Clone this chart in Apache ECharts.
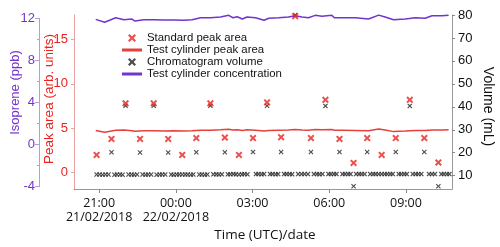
<!DOCTYPE html>
<html>
<head>
<meta charset="utf-8">
<script src="https://cdn.jsdelivr.net/npm/echarts@6/dist/echarts.min.js"></script>
<style>html,body{margin:0;padding:0;background:#fff}#c{width:500px;height:247px}</style>
</head>
<body>
<div id="c"></div>
<script>
// Times are minutes after 21:00 on 21/02/2018 (UTC)
const cylinderTimes = [-8, 13, 39, 58, 77, 84, 105, 128, 152, 175, 199, 218, 238, 261, 285, 304, 314, 324, 336, 347, 367, 387, 398, 421, 444, 460, 476, 491, 507, 523, 546, 552, 570, 601, 632, 656, 671, 691, 718, 742, 765, 781, 804, 820];
const cylinderConcentration = [11.90, 11.62, 12.05, 11.86, 11.93, 11.74, 11.86, 11.86, 11.83, 11.83, 11.81, 11.86, 12.05, 12.05, 12.12, 12.28, 12.05, 12.15, 11.93, 12.12, 12.05, 11.81, 12.00, 12.05, 12.12, 12.24, 12.12, 12.05, 12.28, 12.19, 12.28, 12.05, 12.05, 12.05, 11.93, 12.30, 12.12, 11.86, 11.93, 12.05, 12.00, 12.24, 12.24, 12.28];
const cylinderPeakArea = [4.75, 4.55, 4.78, 4.80, 4.72, 4.65, 4.72, 4.72, 4.70, 4.72, 4.70, 4.72, 4.78, 4.78, 4.82, 4.88, 4.80, 4.84, 4.74, 4.82, 4.78, 4.70, 4.75, 4.78, 4.80, 4.85, 4.80, 4.78, 4.86, 4.82, 4.86, 4.78, 4.78, 4.76, 4.72, 4.92, 4.80, 4.62, 4.68, 4.74, 4.74, 4.80, 4.80, 4.82];

const standardTimes = [-6, 29, 62, 96, 128, 162, 195, 228, 261, 295, 328, 361, 394, 427, 460, 497, 531, 564, 597, 629, 663, 696, 729, 763, 796];
const standardPeakArea = [2.0, 3.8, 7.8, 3.8, 7.8, 3.8, 2.0, 3.9, 7.8, 3.95, 2.0, 3.9, 7.9, 4.0, 17.6, 3.9, 8.2, 3.8, 1.1, 3.9, 2.0, 3.9, 8.2, 3.9, 1.15];
const standardVolume = [10.5, 20.2, 40.5, 20.1, 40.5, 20.1, 10.5, 20.2, 40.5, 20.2, 10.5, 20.3, 40.5, 20.3, 80, 20.3, 40.4, 20.3, 5.4, 20.3, 10.7, 20.3, 40.4, 20.3, 5.4];

const sampleTimes = [1, 8, 15, 22, 36, 42, 49, 55, 69, 76, 82, 89, 102, 109, 115, 122, 135, 142, 148, 155, 169, 175, 182, 188, 202, 208, 215, 221, 235, 241, 248, 254, 268, 275, 281, 288, 302, 308, 315, 321, 335, 341, 348, 368, 374, 381, 387, 401, 407, 414, 420, 434, 440, 447, 453, 467, 475, 482, 490, 504, 511, 517, 524, 538, 544, 551, 557, 571, 577, 584, 590, 603, 610, 616, 623, 636, 643, 649, 656, 670, 676, 683, 689, 703, 709, 716, 722, 736, 743, 749, 756, 774, 781, 788, 803, 809, 816, 822];
const sampleVolume = [10.5, 10.4, 10.5, 10.5, 10.4, 10.5, 10.5, 10.4, 10.5, 10.5, 10.4, 10.5, 10.5, 10.4, 10.5, 10.5, 10.4, 10.5, 10.5, 10.5, 10.5, 10.4, 10.5, 10.5, 10.5, 10.5, 10.4, 10.5, 10.5, 10.5, 10.4, 10.5, 10.6, 10.6, 10.5, 10.6, 10.6, 10.6, 10.7, 10.6, 10.6, 10.7, 10.6, 10.7, 10.7, 10.6, 10.7, 10.7, 10.7, 10.6, 10.7, 10.7, 10.7, 10.7, 10.6, 10.7, 10.7, 10.7, 10.7, 10.7, 10.7, 10.6, 10.7, 10.7, 10.7, 10.7, 10.7, 10.7, 10.7, 10.7, 10.7, 10.7, 10.7, 10.7, 10.7, 10.7, 10.7, 10.7, 10.7, 10.7, 10.7, 10.7, 10.7, 10.7, 10.7, 10.7, 10.7, 10.7, 10.7, 10.7, 10.7, 10.7, 10.7, 10.7, 10.7, 10.7, 10.7, 10.7];

const xTickValues = [0, 180, 360, 540, 720];
const xTickLabels = ['21:00\n21/02/2018', '00:00\n22/02/2018', '03:00', '06:00', '09:00'];
const peakTicks = [0, 5, 10, 15];
const volumeTicks = [10, 20, 30, 40, 50, 60, 70, 80];

const seriesNames = ['Standard peak area', 'Test cylinder peak area', 'Chromatogram volume', 'Test cylinder concentration'];

const zip = (a, b) => a.map((v, i) => [v, b[i]]);

const RED = '#e8231f', PURPLE = '#7434cc', BLACK = '#222222';
const X_THICK = 'path://M0,2L2,0L5,3L8,0L10,2L7,5L10,8L8,10L5,7L2,10L0,8L3,5Z';
const X_THIN = 'path://M0,1.6L1.6,0L5,3.4L8.4,0L10,1.6L6.6,5L10,8.4L8.4,10L5,6.6L1.6,10L0,8.4L3.4,5Z';
const BAR = 'path://M0,0H20V3H0Z';
const FONT = 'Liberation Sans';

const chart = echarts.init(document.getElementById('c'), null, {renderer: 'canvas'});
chart.setOption({
  animation: false,
  backgroundColor: '#ffffff',
  textStyle: {fontFamily: FONT},
  grid: [
    {left: 74, right: 48, top: 15, bottom: 58, outerBoundsMode: 'none', containLabel: false},
    {left: 74, right: 48, top: 18.3, bottom: 60.3, outerBoundsMode: 'none', containLabel: false}
  ],
  legend: {
    orient: 'vertical', left: 122, top: 32, padding: 0,
    itemWidth: 20, itemHeight: 8, itemGap: 0,
    textStyle: {fontFamily: FONT, fontSize: 11.4, color: '#111', lineHeight: 12},
    data: [
      {name: seriesNames[0], icon: X_THICK},
      {name: seriesNames[1], icon: BAR},
      {name: seriesNames[2], icon: X_THICK},
      {name: seriesNames[3], icon: BAR}
    ]
  },
  xAxis: [
    {
      type: 'value', gridIndex: 0, min: -59, max: 828,
      name: 'Time (UTC)/date', nameLocation: 'middle', nameGap: 39, nameMoveOverlap: false,
      nameTextStyle: {fontFamily: 'Open Sans', fontSize: 13.5, color: '#111', padding: [0, 0, 0, 4]},
      splitLine: {show: false},
      axisLine: {onZero: false, lineStyle: {color: '#999', width: 1}},
      axisTick: {customValues: xTickValues, length: 4, lineStyle: {color: '#888'}},
      axisLabel: {
        customValues: xTickValues, margin: 7,
        fontFamily: 'Open Sans', fontSize: 12.5, lineHeight: 14.5, color: '#111',
        formatter: v => xTickLabels[xTickValues.indexOf(v)]
      }
    },
    {type: 'value', gridIndex: 1, min: -59, max: 828, show: false, axisLine: {onZero: false}}
  ],
  yAxis: [
    {
      type: 'value', gridIndex: 0, position: 'left', min: -1.83, max: 17.73,
      name: 'Peak area (arb. units)', nameLocation: 'middle', nameGap: 18, nameMoveOverlap: false,
      nameTextStyle: {fontFamily: FONT, fontSize: 13.5, color: RED, padding: [0, 0, 0, 6]},
      splitLine: {show: false},
      axisLine: {show: true, onZero: false, lineStyle: {color: '#e9a0a0', width: 1}},
      axisTick: {show: true, customValues: peakTicks, length: 3, lineStyle: {color: '#e9a0a0'}},
      axisLabel: {customValues: peakTicks, margin: 6, fontSize: 13, color: RED, fontFamily: FONT}
    },
    {
      type: 'value', gridIndex: 0, position: 'right', min: 4.21, max: 80,
      name: 'Volume (mL)', nameLocation: 'middle', nameGap: 29, nameRotate: -90, nameMoveOverlap: false,
      nameTextStyle: {fontFamily: FONT, fontSize: 14, color: '#111', padding: [0, 0, 0, 9]},
      splitLine: {show: false},
      axisLine: {show: true, onZero: false, lineStyle: {color: '#999', width: 1}},
      axisTick: {show: true, customValues: volumeTicks, length: 3, lineStyle: {color: '#888'}},
      axisLabel: {customValues: volumeTicks, margin: 6, fontSize: 13, color: '#111', fontFamily: FONT}
    },
    {
      type: 'value', gridIndex: 1, position: 'left', offset: 35, min: -4, max: 12, interval: 4,
      name: 'Isoprene (ppb)', nameLocation: 'middle', nameGap: 17, nameMoveOverlap: false,
      nameTextStyle: {fontFamily: FONT, fontSize: 13, color: PURPLE, padding: [0, 0, 0, 20]},
      splitLine: {show: false},
      axisLine: {show: true, onZero: false, lineStyle: {color: '#b89be6', width: 1}},
      axisTick: {show: true, length: 4, lineStyle: {color: '#b89be6'}},
      minorTick: {show: true, splitNumber: 2, length: 2, lineStyle: {color: '#b89be6'}},
      axisLabel: {margin: 4, fontSize: 13, color: PURPLE, fontFamily: FONT}
    }
  ],
  series: [
    {
      name: seriesNames[2], type: 'scatter', xAxisIndex: 0, yAxisIndex: 1,
      symbol: X_THIN, symbolSize: 5, itemStyle: {color: BLACK},
      data: zip(standardTimes, standardVolume).concat(zip(sampleTimes, sampleVolume)), z: 2
    },
    {
      name: seriesNames[1], type: 'line', xAxisIndex: 0, yAxisIndex: 0,
      symbol: 'none', lineStyle: {color: '#e5403c', width: 1.5}, itemStyle: {color: '#e5403c'},
      data: zip(cylinderTimes, cylinderPeakArea), z: 3
    },
    {
      name: seriesNames[3], type: 'line', xAxisIndex: 1, yAxisIndex: 2, clip: false,
      symbol: 'none', lineStyle: {color: PURPLE, width: 1.5}, itemStyle: {color: PURPLE},
      data: zip(cylinderTimes, cylinderConcentration), z: 3
    },
    {
      name: seriesNames[0], type: 'scatter', xAxisIndex: 0, yAxisIndex: 0,
      symbol: X_THICK, symbolSize: 7, itemStyle: {color: RED},
      data: zip(standardTimes, standardPeakArea), z: 4
    }
  ]
});
</script>
</body>
</html>
